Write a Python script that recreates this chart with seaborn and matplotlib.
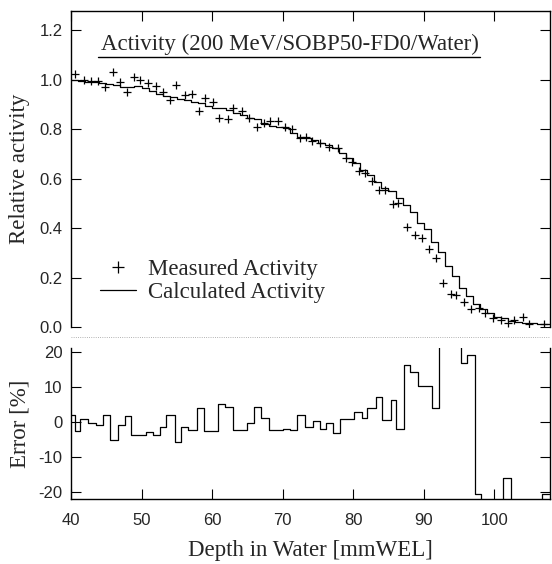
import numpy as np
import seaborn as sns
import matplotlib.pyplot as plt
from matplotlib.lines import Line2D

# measured activity (+ markers)
meas_depth = [40.6, 41.8, 42.8, 43.8, 44.8, 45.9, 46.9, 48.0, 48.9, 49.8,
              50.9, 52.0, 53.0, 54.0, 54.9, 56.1, 57.1, 58.2, 59.0, 60.1,
              61.0, 62.2, 63.0, 64.2, 65.2, 66.4, 67.3, 68.2, 69.3, 70.3,
              71.3, 72.5, 73.3, 74.2, 75.3, 76.6, 77.8, 79.0, 79.8, 80.8,
              81.7, 82.6, 83.7, 84.5, 85.7, 86.4, 87.6, 88.7, 89.8, 90.7,
              91.7, 92.8, 93.9, 94.6, 95.7, 96.7, 97.9, 98.7, 99.8, 100.9,
              101.9, 102.8, 104.1, 104.9, 107.0]
meas_act = [1.022, 0.998, 0.994, 0.995, 0.968, 1.029, 0.989, 0.951, 1.011, 0.998,
            0.985, 0.974, 0.948, 0.917, 0.978, 0.937, 0.940, 0.874, 0.924, 0.910,
            0.843, 0.839, 0.886, 0.874, 0.843, 0.807, 0.823, 0.834, 0.834, 0.809,
            0.800, 0.762, 0.766, 0.753, 0.745, 0.729, 0.722, 0.682, 0.668, 0.632,
            0.621, 0.592, 0.554, 0.554, 0.496, 0.500, 0.403, 0.372, 0.361, 0.314,
            0.278, 0.177, 0.133, 0.129, 0.102, 0.072, 0.076, 0.055, 0.035, 0.028,
            0.017, 0.028, 0.039, 0.012, 0.012]

# calculated activity, 1 mm bins starting at 40 mm
calc_start = 40
calc_act = [1.000, 0.995, 0.991, 0.991, 0.987, 0.980, 0.978, 0.970, 0.968, 0.974,
            0.965, 0.955, 0.940, 0.935, 0.928, 0.922, 0.917, 0.910, 0.904, 0.894,
            0.887, 0.885, 0.877, 0.866, 0.858, 0.845, 0.840, 0.820, 0.814, 0.810,
            0.803, 0.786, 0.769, 0.764, 0.755, 0.742, 0.735, 0.722, 0.702, 0.682,
            0.661, 0.634, 0.614, 0.587, 0.560, 0.548, 0.520, 0.493, 0.463, 0.422,
            0.395, 0.342, 0.305, 0.248, 0.205, 0.158, 0.124, 0.091, 0.071, 0.055,
            0.040, 0.036, 0.026, 0.022, 0.018, 0.015, 0.014, 0.013]

# error [%] step line: bin edges and values
err_edges = [40.0, 40.5, 41.3, 42.4, 43.5, 44.5, 45.5, 46.7, 47.6, 48.5,
             50.7, 51.6, 52.6, 53.5, 54.7, 55.6, 56.6, 57.8, 58.8, 60.8,
             61.8, 63.0, 65.0, 65.9, 67.0, 68.0, 70.0, 71.0, 72.0, 73.1,
             74.3, 75.3, 76.2, 77.1, 78.1, 80.1, 81.2, 82.0, 83.2, 84.1,
             85.3, 86.1, 87.2, 88.0, 89.2, 91.2, 92.1, 95.3, 96.1, 97.3,
             98.1, 101.3, 102.3, 106.7, 107.8]
err_vals = [2.0, -2.5, 0.8, -0.2, -0.9, 2.0, -5.1, -0.9, 1.7, -3.7,
            -3.0, -3.7, -1.3, 2.0, -5.6, -1.5, -2.3, 4.1, -2.6, 5.1,
            4.3, -2.2, -0.4, 4.2, 1.1, -2.2, -1.9, -2.2, 2.0, -1.3,
            0.4, -2.1, -0.2, -3.2, 0.8, 2.9, 1.0, 4.1, 7.0, 0.6,
            6.4, -2.0, 16.4, 14.3, 10.3, 4.1, 30.0, 16.7, 19.0, -20.5,
            -40.0, -15.9, -40.0, -20.5]

sns.set_theme(style="ticks")
plt.rcParams["font.family"] = ["Liberation Sans", "DejaVu Sans"]
plt.rcParams["axes.unicode_minus"] = False
serif = ["Liberation Serif", "DejaVu Serif"]

fig = plt.figure(figsize=(5.52, 5.64), dpi=100)
ax1 = fig.add_axes([0.1286, 0.4202, 0.8678, 0.5603])
ax2 = fig.add_axes([0.1286, 0.1152, 0.8678, 0.2677])

# top panel
calc_x = np.arange(calc_start, calc_start + len(calc_act) + 1)
calc_y = calc_act + [calc_act[-1]]
sns.lineplot(x=calc_x, y=calc_y, drawstyle="steps-post", color="black",
             linewidth=0.9, estimator=None, ax=ax1)
sns.scatterplot(x=meas_depth, y=meas_act, marker="+", s=30, color="black",
                linewidth=0.9, ax=ax1)

ax1.set_xlim(40, 107.9)
ax1.set_ylim(0, 1.277)
ax1.set_yticks([0.0, 0.2, 0.4, 0.6, 0.8, 1.0, 1.2])
ax1.set_yticklabels(["%.1f" % v for v in [0.0, 0.2, 0.4, 0.6, 0.8, 1.0, 1.2]])
ax1.set_xticks([40, 50, 60, 70, 80, 90, 100])
ax1.spines["bottom"].set_visible(False)
ax1.tick_params(direction="in", length=7.5, width=0.8, top=True, right=True,
                bottom=False, labelbottom=False, labelsize=12, pad=6, color="black")
ax1.set_ylabel("Relative activity", family=serif, fontsize=16.5)
ax1.yaxis.set_label_coords(-0.085, 0.5)
ax1.set_xlabel("")

title = ax1.text(0.457, 0.895, "Activity (200 MeV/SOBP50-FD0/Water)", family=serif,
                 fontsize=16.5, ha="center", va="center", transform=ax1.transAxes)

handles = [Line2D([], [], color="black", marker="+", linestyle="none",
                  markersize=9, markeredgewidth=0.9),
           Line2D([], [], color="black", linewidth=0.9)]
ax1.legend(handles, ["Measured Activity", "Calculated Activity"], loc="lower left",
           bbox_to_anchor=(0.06, 0.075), frameon=False, borderpad=0, borderaxespad=0,
           handlelength=1.6, handletextpad=0.5, labelspacing=0.1,
           prop={"family": serif, "size": 16.5})

# bottom panel
err_y = err_vals + [err_vals[-1]]
sns.lineplot(x=err_edges, y=err_y, drawstyle="steps-post", color="black",
             linewidth=0.9, estimator=None, sort=False, ax=ax2)
ax2.set_xlim(40, 107.9)
ax2.set_ylim(-22, 21.1)
ax2.set_yticks([-20, -10, 0, 10, 20])
ax2.set_xticks([40, 50, 60, 70, 80, 90, 100])
ax2.spines["top"].set_visible(False)
ax2.tick_params(direction="in", length=7.5, width=0.8, right=True,
                labelsize=12, color="black")
ax2.tick_params(axis="y", pad=6)
ax2.tick_params(axis="x", pad=10)
ax2.set_ylabel("Error [%]", family=serif, fontsize=16.5)
ax2.yaxis.set_label_coords(-0.085, 0.5)
ax2.set_xlabel("Depth in Water [mmWEL]", family=serif, fontsize=16.5)
ax2.xaxis.set_label_coords(0.5, -0.27)

for ax in (ax1, ax2):
    for sp in ax.spines.values():
        sp.set_linewidth(1.0)
        sp.set_color("black")

# underline below the title and dotted separator between panels
fig.canvas.draw()
bb = title.get_window_extent()
W, H = fig.bbox.width, fig.bbox.height
uy = (bb.y0 - 2) / H
fig.add_artist(Line2D([bb.x0 / W - 0.005, bb.x1 / W + 0.003], [uy, uy],
                      color="black", linewidth=1.0))
sep_y = 1 - 337 / 564
fig.add_artist(Line2D([0.1286, 0.9964], [sep_y, sep_y], color="0.6",
                      linewidth=0.6, linestyle=":"))

fig.savefig("out.png", dpi=100)
